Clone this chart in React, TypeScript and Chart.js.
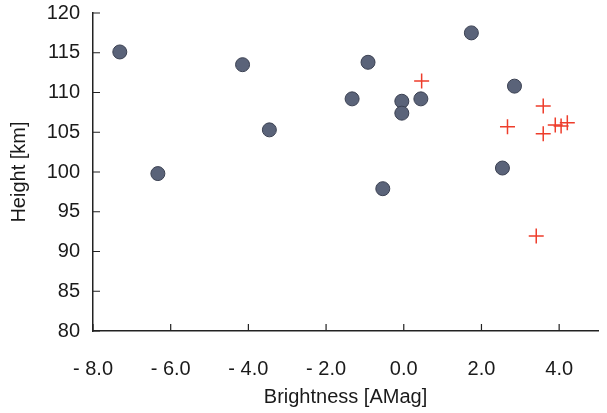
import React, { useEffect, useRef } from "react";
import { Chart, registerables } from "chart.js";

Chart.register(...registerables);

const meteorBrightness = [-7.31, -6.33, -4.15, -3.46, -1.33, -0.92, -0.54, -0.05, -0.05, 0.44, 1.74, 2.85, 2.54];
const meteorHeight = [115.1, 99.8, 113.5, 105.3, 109.2, 113.8, 97.9, 108.9, 107.4, 109.2, 117.5, 110.8, 100.5];

const otherBrightness = [0.46, 2.67, 3.59, 3.59, 3.9, 4.05, 4.21, 3.41];
const otherHeight = [111.45, 105.7, 108.3, 104.8, 105.9, 105.8, 106.2, 91.95];

const xTicks = [-8, -6, -4, -2, 0, 2, 4];
const yTicks = [80, 85, 90, 95, 100, 105, 110, 115, 120];

const FONT = "'Liberation Sans', Arial, Helvetica, sans-serif";

const inwardTicks = {
  id: "inwardTicks",
  afterDraw(chart: any) {
    const { ctx, chartArea, scales } = chart;
    ctx.save();
    ctx.strokeStyle = "#222";
    ctx.lineWidth = 1.2;
    ctx.beginPath();
    for (const t of scales.x.ticks) {
      const px = scales.x.getPixelForValue(t.value);
      ctx.moveTo(px, chartArea.bottom);
      ctx.lineTo(px, chartArea.bottom - 7);
    }
    for (const t of scales.y.ticks) {
      const py = scales.y.getPixelForValue(t.value);
      ctx.moveTo(chartArea.left, py);
      ctx.lineTo(chartArea.left + 7, py);
    }
    ctx.stroke();
    ctx.restore();
  },
};

export default function App() {
  const ref = useRef<HTMLCanvasElement | null>(null);
  useEffect(() => {
    if (!ref.current) return;
    const chart = new Chart(ref.current, {
      type: "scatter",
      data: {
        datasets: [
          {
            label: "meteors",
            data: meteorBrightness.map((x, i) => ({ x, y: meteorHeight[i] })),
            pointStyle: "circle",
            pointRadius: 7,
            backgroundColor: "#5a6379",
            borderColor: "#3b4152",
            borderWidth: 1,
          },
          {
            label: "others",
            data: otherBrightness.map((x, i) => ({ x, y: otherHeight[i] })),
            pointStyle: "cross",
            pointRadius: 7.5,
            borderColor: "#ee3d2b",
            borderWidth: 1.5,
          },
        ],
      },
      options: {
        animation: false,
        responsive: true,
        maintainAspectRatio: false,
        layout: { padding: { top: 13, right: 7, left: 0, bottom: 0 } },
        plugins: { legend: { display: false }, tooltip: { enabled: false } },
        scales: {
          x: {
            type: "linear",
            min: -8,
            max: 5,
            afterBuildTicks: (s: any) => {
              s.ticks = xTicks.map((v) => ({ value: v }));
            },
            afterFit: (s: any) => {
              s.height = 82;
            },
            grid: { display: false, drawTicks: false },
            border: { display: true, color: "#222", width: 1.5 },
            ticks: {
              padding: 26,
              color: "#1a1a1a",
              font: { family: FONT, size: 20 },
              callback: (v: any) => (v < 0 ? "- " + Math.abs(v).toFixed(1) : Number(v).toFixed(1)),
            },
            title: {
              display: true,
              text: "Brightness [AMag]",
              color: "#1a1a1a",
              font: { family: FONT, size: 20 },
              padding: { top: 0, bottom: 4 },
            },
          },
          y: {
            type: "linear",
            min: 80,
            max: 120,
            afterBuildTicks: (s: any) => {
              s.ticks = yTicks.map((v) => ({ value: v }));
            },
            afterFit: (s: any) => {
              s.width = 93;
              s.paddingTop = 0;
              s.paddingBottom = 0;
            },
            grid: { display: false, drawTicks: false },
            border: { display: true, color: "#222", width: 1.5 },
            ticks: {
              padding: 13,
              color: "#1a1a1a",
              font: { family: FONT, size: 20 },
            },
            title: {
              display: true,
              text: "Height [km]",
              color: "#1a1a1a",
              font: { family: FONT, size: 20 },
              padding: { top: 7, bottom: 0 },
            },
          },
        },
      },
      plugins: [inwardTicks],
    });
    return () => chart.destroy();
  }, []);
  return (
    <div style={{ position: "fixed", left: 0, top: 0, width: 607, height: 413, background: "#fff" }}>
      <canvas ref={ref} />
    </div>
  );
}
